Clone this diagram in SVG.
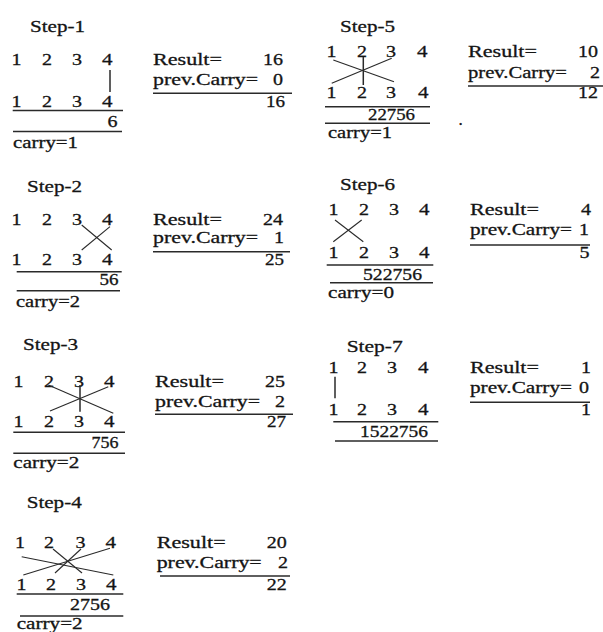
<svg xmlns="http://www.w3.org/2000/svg" width="603" height="632" viewBox="0 0 603 632">
<style>
.r{stroke:#2a2a2a;stroke-width:1.4;fill:none}
.x{stroke:#2a2a2a;stroke-width:1.1;fill:none}
.t{font-family:"Liberation Serif","Times New Roman",serif;font-size:17px;fill:#141414;stroke:#141414;stroke-width:0.3}
</style>
<rect width="603" height="632" fill="#ffffff"/>

<g id="step1" class="t">
<text x="30" y="32" textLength="55" lengthAdjust="spacingAndGlyphs">Step-1</text>
<text x="11.5" y="65" textLength="10" lengthAdjust="spacingAndGlyphs">1</text>
<text x="42" y="65" textLength="10" lengthAdjust="spacingAndGlyphs">2</text>
<text x="72" y="65" textLength="10" lengthAdjust="spacingAndGlyphs">3</text>
<text x="102" y="65" textLength="10.5" lengthAdjust="spacingAndGlyphs">4</text>
<text x="11.5" y="106.5" textLength="10" lengthAdjust="spacingAndGlyphs">1</text>
<text x="42" y="106.5" textLength="10" lengthAdjust="spacingAndGlyphs">2</text>
<text x="72" y="106.5" textLength="10" lengthAdjust="spacingAndGlyphs">3</text>
<text x="102" y="106.5" textLength="10.5" lengthAdjust="spacingAndGlyphs">4</text>
<line class="r" x1="12.7" y1="110.5" x2="123" y2="110.5"/>
<text x="107.5" y="126.5" textLength="10" lengthAdjust="spacingAndGlyphs">6</text>
<line class="r" x1="13" y1="131.5" x2="122" y2="131.5"/>
<text x="13" y="148" textLength="65" lengthAdjust="spacingAndGlyphs">carry=1</text>
<text x="153" y="65" textLength="69" lengthAdjust="spacingAndGlyphs">Result=</text>
<text x="263" y="65" textLength="20" lengthAdjust="spacingAndGlyphs">16</text>
<text x="153" y="85" textLength="105" lengthAdjust="spacingAndGlyphs">prev.Carry=</text>
<text x="273" y="85" textLength="10" lengthAdjust="spacingAndGlyphs">0</text>
<line class="r" x1="153" y1="93.3" x2="292" y2="93.3"/>
<text x="266" y="106.5" textLength="19" lengthAdjust="spacingAndGlyphs">16</text>
</g>

<g id="step5" class="t">
<text x="340" y="32" textLength="55" lengthAdjust="spacingAndGlyphs">Step-5</text>
<text x="326.5" y="56.7" textLength="10" lengthAdjust="spacingAndGlyphs">1</text>
<text x="357" y="56.7" textLength="10" lengthAdjust="spacingAndGlyphs">2</text>
<text x="386" y="56.7" textLength="10" lengthAdjust="spacingAndGlyphs">3</text>
<text x="417" y="56.7" textLength="10.5" lengthAdjust="spacingAndGlyphs">4</text>
<text x="326.5" y="98.3" textLength="10" lengthAdjust="spacingAndGlyphs">1</text>
<text x="357" y="98.3" textLength="10" lengthAdjust="spacingAndGlyphs">2</text>
<text x="386" y="98.3" textLength="10" lengthAdjust="spacingAndGlyphs">3</text>
<text x="418" y="98.3" textLength="10.5" lengthAdjust="spacingAndGlyphs">4</text>
<line class="r" x1="325" y1="106.7" x2="430" y2="106.7"/>
<text x="368" y="120" textLength="47" lengthAdjust="spacingAndGlyphs">22756</text>
<line class="r" x1="325" y1="123.3" x2="430" y2="123.3"/>
<text x="328" y="138" textLength="64" lengthAdjust="spacingAndGlyphs">carry=1</text>
<text x="458.5" y="125">.</text>
<text x="468" y="56.7" textLength="69" lengthAdjust="spacingAndGlyphs">Result=</text>
<text x="578" y="56.7" textLength="20" lengthAdjust="spacingAndGlyphs">10</text>
<text x="468" y="78.3" textLength="99" lengthAdjust="spacingAndGlyphs">prev.Carry=</text>
<text x="590" y="78.3" textLength="10" lengthAdjust="spacingAndGlyphs">2</text>
<line class="r" x1="468" y1="86" x2="603" y2="86"/>
<text x="578" y="98" textLength="20" lengthAdjust="spacingAndGlyphs">12</text>
</g>

<g id="step2" class="t">
<text x="27" y="191.7" textLength="55" lengthAdjust="spacingAndGlyphs">Step-2</text>
<text x="11.5" y="225" textLength="10" lengthAdjust="spacingAndGlyphs">1</text>
<text x="42" y="225" textLength="10" lengthAdjust="spacingAndGlyphs">2</text>
<text x="72" y="225" textLength="10" lengthAdjust="spacingAndGlyphs">3</text>
<text x="102" y="225" textLength="10.5" lengthAdjust="spacingAndGlyphs">4</text>
<text x="11.5" y="265" textLength="10" lengthAdjust="spacingAndGlyphs">1</text>
<text x="42" y="265" textLength="10" lengthAdjust="spacingAndGlyphs">2</text>
<text x="72" y="265" textLength="10" lengthAdjust="spacingAndGlyphs">3</text>
<text x="102" y="265" textLength="10.5" lengthAdjust="spacingAndGlyphs">4</text>
<line class="r" x1="16.7" y1="271.7" x2="121.7" y2="271.7"/>
<text x="99.5" y="285" textLength="19" lengthAdjust="spacingAndGlyphs">56</text>
<line class="r" x1="16.7" y1="290.7" x2="120" y2="290.7"/>
<text x="16" y="306.7" textLength="64" lengthAdjust="spacingAndGlyphs">carry=2</text>
<text x="153" y="225" textLength="69" lengthAdjust="spacingAndGlyphs">Result=</text>
<text x="263" y="225" textLength="20" lengthAdjust="spacingAndGlyphs">24</text>
<text x="153" y="243.3" textLength="105" lengthAdjust="spacingAndGlyphs">prev.Carry=</text>
<text x="274" y="243.3" textLength="10" lengthAdjust="spacingAndGlyphs">1</text>
<line class="r" x1="153" y1="251.7" x2="290" y2="251.7"/>
<text x="265" y="265" textLength="19" lengthAdjust="spacingAndGlyphs">25</text>
</g>

<g id="step6" class="t">
<text x="340" y="190" textLength="55" lengthAdjust="spacingAndGlyphs">Step-6</text>
<text x="328.5" y="215" textLength="10" lengthAdjust="spacingAndGlyphs">1</text>
<text x="359" y="215" textLength="10" lengthAdjust="spacingAndGlyphs">2</text>
<text x="389" y="215" textLength="10" lengthAdjust="spacingAndGlyphs">3</text>
<text x="419" y="215" textLength="10.5" lengthAdjust="spacingAndGlyphs">4</text>
<text x="328.5" y="258.3" textLength="10" lengthAdjust="spacingAndGlyphs">1</text>
<text x="359" y="258.3" textLength="10" lengthAdjust="spacingAndGlyphs">2</text>
<text x="389" y="258.3" textLength="10" lengthAdjust="spacingAndGlyphs">3</text>
<text x="419" y="258.3" textLength="10.5" lengthAdjust="spacingAndGlyphs">4</text>
<line class="r" x1="326.7" y1="265" x2="433.3" y2="265"/>
<text x="363" y="280" textLength="59" lengthAdjust="spacingAndGlyphs">522756</text>
<line class="r" x1="330" y1="282.7" x2="433" y2="282.7"/>
<text x="328" y="298.3" textLength="66" lengthAdjust="spacingAndGlyphs">carry=0</text>
<text x="470" y="215" textLength="69" lengthAdjust="spacingAndGlyphs">Result=</text>
<text x="581" y="215" textLength="10" lengthAdjust="spacingAndGlyphs">4</text>
<text x="470" y="235" textLength="102" lengthAdjust="spacingAndGlyphs">prev.Carry=</text>
<text x="579" y="235" textLength="10" lengthAdjust="spacingAndGlyphs">1</text>
<line class="r" x1="470" y1="245" x2="590" y2="245"/>
<text x="579.5" y="258.3" textLength="10" lengthAdjust="spacingAndGlyphs">5</text>
</g>

<g id="step3" class="t">
<text x="23" y="350" textLength="55" lengthAdjust="spacingAndGlyphs">Step-3</text>
<text x="13.5" y="386.7" textLength="10" lengthAdjust="spacingAndGlyphs">1</text>
<text x="44" y="386.7" textLength="10" lengthAdjust="spacingAndGlyphs">2</text>
<text x="74" y="386.7" textLength="10" lengthAdjust="spacingAndGlyphs">3</text>
<text x="104" y="386.7" textLength="10.5" lengthAdjust="spacingAndGlyphs">4</text>
<text x="13.5" y="426.7" textLength="10" lengthAdjust="spacingAndGlyphs">1</text>
<text x="44" y="426.7" textLength="10" lengthAdjust="spacingAndGlyphs">2</text>
<text x="74" y="426.7" textLength="10" lengthAdjust="spacingAndGlyphs">3</text>
<text x="104" y="426.7" textLength="10.5" lengthAdjust="spacingAndGlyphs">4</text>
<line class="r" x1="13.3" y1="432.3" x2="125" y2="432.3"/>
<text x="91.5" y="448.3" textLength="27" lengthAdjust="spacingAndGlyphs">756</text>
<line class="r" x1="13.3" y1="453.3" x2="125" y2="453.3"/>
<text x="13.3" y="468.3" textLength="66" lengthAdjust="spacingAndGlyphs">carry=2</text>
<text x="155" y="386.7" textLength="69" lengthAdjust="spacingAndGlyphs">Result=</text>
<text x="265" y="386.7" textLength="20" lengthAdjust="spacingAndGlyphs">25</text>
<text x="155" y="406.7" textLength="105" lengthAdjust="spacingAndGlyphs">prev.Carry=</text>
<text x="275" y="406.7" textLength="10" lengthAdjust="spacingAndGlyphs">2</text>
<line class="r" x1="155" y1="414.3" x2="293" y2="414.3"/>
<text x="267" y="426.7" textLength="19" lengthAdjust="spacingAndGlyphs">27</text>
</g>

<g id="step7" class="t">
<text x="346.7" y="351.7" textLength="56" lengthAdjust="spacingAndGlyphs">Step-7</text>
<text x="328.5" y="373.3" textLength="10" lengthAdjust="spacingAndGlyphs">1</text>
<text x="357" y="373.3" textLength="10" lengthAdjust="spacingAndGlyphs">2</text>
<text x="387" y="373.3" textLength="10" lengthAdjust="spacingAndGlyphs">3</text>
<text x="418" y="373.3" textLength="10.5" lengthAdjust="spacingAndGlyphs">4</text>
<text x="328.5" y="415" textLength="10" lengthAdjust="spacingAndGlyphs">1</text>
<text x="357" y="415" textLength="10" lengthAdjust="spacingAndGlyphs">2</text>
<text x="387" y="415" textLength="10" lengthAdjust="spacingAndGlyphs">3</text>
<text x="418" y="415" textLength="10.5" lengthAdjust="spacingAndGlyphs">4</text>
<line class="r" x1="333.3" y1="421.7" x2="438.3" y2="421.7"/>
<text x="360" y="436.7" textLength="68" lengthAdjust="spacingAndGlyphs">1522756</text>
<line class="r" x1="335" y1="441" x2="438" y2="441"/>
<text x="470" y="373.3" textLength="69" lengthAdjust="spacingAndGlyphs">Result=</text>
<text x="581" y="373.3" textLength="10" lengthAdjust="spacingAndGlyphs">1</text>
<text x="470" y="393.3" textLength="102" lengthAdjust="spacingAndGlyphs">prev.Carry=</text>
<text x="579" y="393.3" textLength="10" lengthAdjust="spacingAndGlyphs">0</text>
<line class="r" x1="470" y1="402.3" x2="590" y2="402.3"/>
<text x="581" y="415" textLength="10" lengthAdjust="spacingAndGlyphs">1</text>
</g>

<g id="step4" class="t">
<text x="26.7" y="508.3" textLength="55" lengthAdjust="spacingAndGlyphs">Step-4</text>
<text x="15" y="548.3" textLength="10" lengthAdjust="spacingAndGlyphs">1</text>
<text x="44" y="548.3" textLength="10" lengthAdjust="spacingAndGlyphs">2</text>
<text x="75.5" y="548.3" textLength="10" lengthAdjust="spacingAndGlyphs">3</text>
<text x="105.5" y="548.3" textLength="10.5" lengthAdjust="spacingAndGlyphs">4</text>
<text x="16.5" y="590" textLength="10" lengthAdjust="spacingAndGlyphs">1</text>
<text x="46" y="590" textLength="10" lengthAdjust="spacingAndGlyphs">2</text>
<text x="76" y="590" textLength="10" lengthAdjust="spacingAndGlyphs">3</text>
<text x="106" y="590" textLength="10.5" lengthAdjust="spacingAndGlyphs">4</text>
<line class="r" x1="16.7" y1="594" x2="123.3" y2="594"/>
<text x="70" y="610" textLength="40" lengthAdjust="spacingAndGlyphs">2756</text>
<line class="r" x1="20" y1="616" x2="123.3" y2="616"/>
<text x="16.7" y="628.5" textLength="66" lengthAdjust="spacingAndGlyphs">carry=2</text>
<text x="156.7" y="548.3" textLength="69" lengthAdjust="spacingAndGlyphs">Result=</text>
<text x="266.7" y="548.3" textLength="20" lengthAdjust="spacingAndGlyphs">20</text>
<text x="156.7" y="568.3" textLength="105" lengthAdjust="spacingAndGlyphs">prev.Carry=</text>
<text x="278" y="568.3" textLength="10" lengthAdjust="spacingAndGlyphs">2</text>
<line class="r" x1="160" y1="576" x2="290" y2="576"/>
<text x="266.7" y="590" textLength="20" lengthAdjust="spacingAndGlyphs">22</text>
</g>

<g id="connectors">
<line class="x" x1="110" y1="70" x2="110" y2="92" style="stroke-width:1.5"/>
<line class="x" x1="331.7" y1="83.3" x2="391.7" y2="58.3"/>
<line class="x" x1="333.3" y1="60" x2="394" y2="81.7"/>
<line class="x" x1="363.3" y1="57" x2="363.3" y2="85" style="stroke-width:1.5"/>
<line class="x" x1="81.7" y1="225" x2="111.7" y2="250"/>
<line class="x" x1="81.7" y1="250" x2="110" y2="226.7"/>
<line class="x" x1="333.3" y1="241.7" x2="361.7" y2="220"/>
<line class="x" x1="335" y1="220" x2="363.3" y2="241.7"/>
<line class="x" x1="48.3" y1="385" x2="113.3" y2="413.3"/>
<line class="x" x1="50" y1="411" x2="108.3" y2="386.7"/>
<line class="x" x1="80" y1="385" x2="80" y2="411.7" style="stroke-width:1.5"/>
<line class="x" x1="335" y1="376.7" x2="335" y2="398.3" style="stroke-width:1.5"/>
<line class="x" x1="21.7" y1="556.7" x2="113.3" y2="575"/>
<line class="x" x1="23.3" y1="575" x2="110" y2="548.3"/>
<line class="x" x1="53" y1="549" x2="82" y2="573"/>
<line class="x" x1="81" y1="549" x2="55" y2="573"/>
</g>
</svg>
